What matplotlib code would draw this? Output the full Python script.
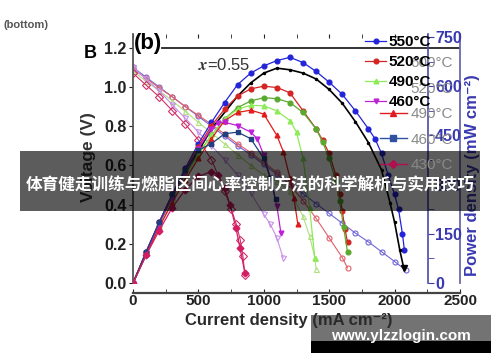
import matplotlib
matplotlib.use("Agg")
import matplotlib.pyplot as plt
from matplotlib.patches import Rectangle
from matplotlib.lines import Line2D

plt.rcParams['font.family'] = ['Liberation Sans', 'DejaVu Sans']
plt.rcParams['font.weight'] = 'bold'
plt.rcParams['mathtext.fontset'] = 'stix'

# ---- voltage curves (open markers), current in mA cm-2, voltage in V
i_v550 = [0, 100, 200, 300, 400, 500, 600, 700, 800, 900, 1000, 1100, 1200, 1300, 1400, 1500, 1600, 1700, 1800, 1900, 2000, 2085]
v550 = [1.10, 1.05, 1.00, 0.95, 0.90, 0.85, 0.80, 0.75, 0.70, 0.655, 0.605, 0.555, 0.505, 0.455, 0.405, 0.355, 0.305, 0.255, 0.21, 0.16, 0.11, 0.066]
i_v520 = [0, 100, 200, 300, 400, 500, 600, 700, 800, 900, 1000, 1100, 1200, 1300, 1400, 1500, 1600, 1640]
v520 = [1.09, 1.045, 0.995, 0.95, 0.90, 0.855, 0.81, 0.76, 0.71, 0.665, 0.615, 0.565, 0.50, 0.42, 0.33, 0.23, 0.13, 0.077]
i_v490 = [0, 100, 200, 300, 400, 500, 600, 700, 800, 900, 1000, 1100, 1200, 1300, 1350, 1390, 1400]
v490 = [1.08, 1.03, 0.98, 0.93, 0.875, 0.82, 0.765, 0.71, 0.655, 0.60, 0.55, 0.52, 0.47, 0.34, 0.24, 0.13, 0.07]
i_v460 = [0, 100, 200, 300, 400, 500, 600, 700, 800, 900, 1000, 1050, 1100, 1147]
v460 = [1.10, 1.04, 0.98, 0.91, 0.84, 0.77, 0.70, 0.63, 0.55, 0.46, 0.35, 0.30, 0.23, 0.13]
i_v430 = [0, 100, 200, 300, 400, 500, 600, 700, 750, 790, 820, 840, 856]
v430 = [1.07, 1.01, 0.95, 0.88, 0.81, 0.73, 0.63, 0.47, 0.38, 0.30, 0.22, 0.14, 0.04]

# ---- power density curves (filled markers), mW cm-2
i_p550 = [0, 100, 200, 300, 400, 500, 600, 700, 800, 900, 1000, 1100, 1200, 1300, 1400, 1500, 1600, 1700, 1800, 1850, 1900, 1950, 2000, 2030, 2060, 2075]
p550 = [0, 95, 185, 270, 350, 425, 490, 550, 605, 640, 662, 678, 688, 672, 645, 612, 575, 525, 470, 440, 395, 330, 270, 225, 150, 100]
i_pblk = [0, 200, 400, 600, 800, 900, 1000, 1100, 1200, 1300, 1400, 1500, 1600, 1700, 1800, 1900, 1965, 2000, 2040, 2070]
pblk = [0, 175, 335, 470, 570, 610, 640, 655, 650, 640, 622, 590, 548, 492, 428, 345, 245, 185, 100, 46]
i_p520 = [0, 100, 200, 300, 400, 500, 600, 700, 800, 900, 1000, 1100, 1200, 1300, 1400, 1450, 1500, 1550, 1580, 1600, 1620, 1640]
p520 = [0, 95, 185, 270, 345, 415, 480, 530, 570, 592, 600, 596, 580, 525, 470, 435, 395, 330, 270, 220, 165, 125]
i_pgrn = [0, 100, 200, 300, 400, 500, 600, 700, 800, 900, 1000, 1100, 1200, 1300, 1400, 1450, 1500, 1550, 1580, 1610, 1640]
pgrn = [0, 90, 175, 255, 330, 395, 450, 500, 535, 555, 565, 562, 550, 520, 470, 430, 380, 310, 250, 170, 95]
i_p490 = [0, 100, 200, 300, 400, 500, 600, 700, 800, 900, 1000, 1100, 1200, 1250, 1300, 1350, 1390]
p490 = [0, 90, 175, 255, 325, 390, 450, 500, 530, 542, 540, 525, 495, 460, 380, 230, 76]
i_pred = [0, 100, 200, 300, 400, 500, 600, 700, 800, 900, 1000, 1100, 1150, 1200, 1230, 1260]
pred = [0, 88, 170, 245, 315, 380, 440, 495, 520, 527, 515, 450, 400, 320, 260, 180]
i_p460 = [0, 100, 200, 300, 400, 500, 600, 650, 700, 800, 900, 950, 1000, 1050, 1100, 1131]
p460 = [0, 92, 180, 260, 335, 410, 470, 488, 490, 480, 460, 440, 390, 320, 235, 152]
i_pnavy = [0, 100, 200, 300, 400, 500, 600, 700, 800, 900, 1000, 1050, 1090]
pnavy = [0, 95, 185, 270, 345, 405, 425, 455, 460, 440, 380, 320, 255]
i_pcrim = [0, 100, 200, 300, 400, 500, 600, 650, 700, 742, 787, 818, 856]
pcrim = [0, 85, 160, 230, 285, 325, 340, 330, 290, 238, 168, 107, 30]

legend_main = ['550°C', '520°C', '490°C', '460°C']
legend_ghost = ['600°C', '520°C', '490°C', '460°C', '430°C']

fig = plt.figure(figsize=(5, 3.62), dpi=100)
ax = fig.add_axes([0.266, 0.218, 0.654, 0.688])
ax.set_xlim(0, 2500)
ax.set_ylim(0, 1.27)

ov = dict(mfc='none', mew=0.8, ms=3.6, lw=0.8)
ax.plot(i_v550, v550, '-o', color='#6f67d8', **ov)
ax.plot(i_v520, v520, '-o', color='#e0606a', **ov)
ax.plot(i_v490, v490, '-^', color='#b0e080', **ov)
ax.plot(i_v460, v460, '-v', color='#c890e8', **ov)
ax.plot(i_v430, v430, '-D', color='#d0306a', **ov)

for s in ['right', 'top']:
    ax.spines[s].set_visible(False)
ax.spines['left'].set_color('#555555')
ax.spines['left'].set_linewidth(1.3)
ax.spines['bottom'].set_position(('outward', 7.2))
ax.spines['bottom'].set_color('#444444')
ax.spines['bottom'].set_linewidth(1.6)
ax.set_yticks([0, 0.2, 0.4, 0.6, 0.8, 1.0, 1.2])
ax.set_yticklabels(['0.0', '0.2', '0.4', '0.6', '0.8', '1.0', '1.2'])
ax.set_xticks([0, 500, 1000, 1500, 2000, 2500])
ax.set_xticks(range(250, 2500, 500), minor=True)
ax.tick_params(axis='y', direction='out', length=3, pad=1.5, labelsize=11.5, colors='#222222')
ax.tick_params(axis='x', which='both', direction='in', length=3, pad=1, labelsize=11, colors='#222222',
               top=True)
ax.axhline(1.2, xmin=0.088, color='#222222', lw=1.3)
ax.axvline(2500, ymax=1.0, color='#6a6ab0', lw=1.3, clip_on=False)

par = ax.twinx()
par.set_ylim(0, 759)
for s in ['left', 'top', 'bottom']:
    par.spines[s].set_visible(False)
par.spines['right'].set_position(('axes', 0.902))
par.spines['right'].set_color('#4a4aa8')
par.spines['right'].set_linewidth(1.2)
par.set_yticks([0, 150, 300, 450, 600, 750])
par.set_yticks(range(75, 760, 150), minor=True)
par.tick_params(axis='y', which='both', direction='out', length=4, pad=1, labelsize=11.5,
                colors='#3a3ab0')

fv = dict(ms=3.4, lw=0.9)
l550, = par.plot(i_p550, p550, '-o', color='#2323d8', **fv)
par.plot(i_pblk, pblk, '-', color='#000000', marker='.', ms=3, lw=1.2)
par.plot(i_pblk[-1:], pblk[-1:], 'v', color='#000000', ms=5)
l520, = par.plot(i_p520, p520, '-o', color='#d42424', **fv)
par.plot(i_pgrn, pgrn, '-o', color='#5aaa30', **fv)
l490, = par.plot(i_p490, p490, '-^', color='#8fea5a', **fv)
par.plot(i_pred, pred, '-^', color='#e21c1c', **fv)
l460, = par.plot(i_p460, p460, '-v', color='#c020d8', **fv)
par.plot(i_pnavy, pnavy, '-s', color='#20407f', **fv)
par.plot(i_pcrim, pcrim, '-D', color='#d41c64', **fv)

ghost_handles = [Line2D([], [], color='none'), Line2D([], [], color='none'),
                 Line2D([], [], color='#e21c1c', marker='^', ms=4, lw=1),
                 Line2D([], [], color='#3050a0', marker='s', ms=4, lw=1),
                 Line2D([], [], color='#b01050', marker='D', ms=4, lw=1)]
lg2 = fig.legend(ghost_handles, legend_ghost, loc='upper left', bbox_to_anchor=(380 / 500, 1 - 56 / 362),
                 frameon=False, borderpad=0, borderaxespad=0, handlelength=1.75, handletextpad=0.25,
                 labelspacing=0.76, prop={'size': 11, 'weight': 'normal'})
for t in lg2.get_texts():
    t.set_color('#8a8a8a')
lg = fig.legend([l550, l520, l490, l460], legend_main, loc='upper left',
                bbox_to_anchor=(365 / 500, 1 - 35 / 362), frameon=False, borderpad=0, borderaxespad=0,
                handlelength=1.4, handletextpad=0.15, labelspacing=0.4, prop={'size': 11, 'weight': 'bold'})

fig.text(3 / 500, 1 - 25 / 362, '(bottom)', fontsize=8, color='#555555', va='center')
fig.text(90 / 500, 1 - 54 / 362, 'B', fontsize=13, ha='center', va='center')
fig.text(148 / 500, 1 - 44 / 362, '(b)', fontsize=16, ha='center', va='center')
fig.text(224 / 500, 1 - 65 / 362, r'$x$=0.55', fontsize=12, weight='normal', color='#333333',
         ha='center', va='center')
fig.text(89 / 500, 1 - 157 / 362, 'Voltage (V)', fontsize=12.5, rotation=90, ha='center', va='center',
         color='#333333')
fig.text(289 / 500, 1 - 321 / 362, 'Current density (mA cm⁻²)', fontsize=12, ha='center', va='center',
         color='#2a2a2a', zorder=7)
fig.text(472 / 500, 1 - 175 / 362, 'Power density (mW cm⁻²)', fontsize=12, rotation=90, ha='center',
         va='center', color='#3a3ab0')

# overlay banner and watermark
fig.patches.append(Rectangle((20 / 500, 1 - 211 / 362), 460 / 500, 60 / 362, transform=fig.transFigure,
                             facecolor='black', alpha=0.64, edgecolor='none', zorder=5))
fig.text(250 / 500, 1 - 185 / 362, '体育健走训练与燃脂区间心率控制方法的科学解析与实用技巧',
         family=['Noto Sans CJK SC', 'DejaVu Sans'], fontsize=12, weight='bold', color='white',
         ha='center', va='center', zorder=6)
fig.patches.append(Rectangle((311 / 500, 1 - 341 / 362), 180 / 500, 26 / 362, transform=fig.transFigure,
                             facecolor='#5a5a5a', alpha=0.85, edgecolor='none', zorder=5))
fig.patches.append(Rectangle((311 / 500, 1 - 353 / 362), 180 / 500, 12 / 362, transform=fig.transFigure,
                             facecolor='black', edgecolor='none', zorder=5))
fig.text(401 / 500, 1 - 336 / 362, 'www.ylzzlogin.com', fontsize=11, weight='bold', color='white',
         ha='center', va='center', zorder=8)

fig.savefig('out.png', dpi=100)
